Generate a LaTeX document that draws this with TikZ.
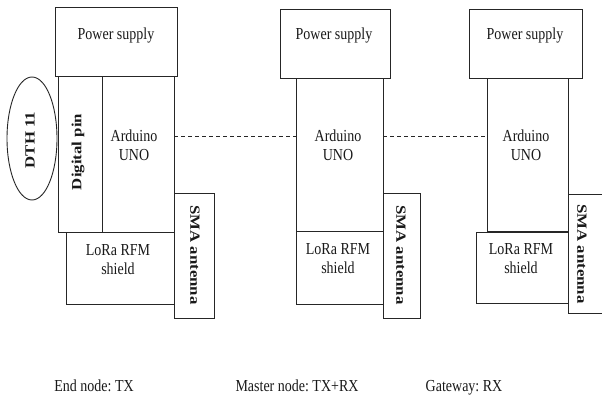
\documentclass[tikz,border=0pt]{standalone}
\usepackage{fontspec}
\setmainfont{Liberation Serif}
\usetikzlibrary{shapes.geometric}
\frenchspacing
\newcommand{\hs}[1]{\scalebox{1}[1.2]{\begin{tabular}{@{}c@{}}#1\end{tabular}}}
\newcommand{\vs}[1]{\scalebox{1.2}[1]{\textbf{#1}}}
\begin{document}
\begin{tikzpicture}[x=1pt,y=-1pt,
  box/.style={draw=black!85,line width=0.9pt,rectangle,inner sep=0pt},
  lbl/.style={inner sep=0pt,font=\fontsize{14}{16}\selectfont,text=black!90},
  dline/.style={draw=black!85,line width=0.9pt,dash pattern=on 4pt off 3pt}]
\useasboundingbox[fill=white] (0,0) rectangle (602,407);
% End node
\node[box,minimum width=122pt,minimum height=69pt] (ps1) at (116,41.5) {};
\node[box,minimum width=44pt,minimum height=156pt] (dp1) at (80,154) {};
\node[box,minimum width=72pt,minimum height=156pt] (ard1) at (138,154) {};
\node[box,minimum width=108pt,minimum height=72pt] (lora1) at (120,268) {};
\node[box,minimum width=40pt,minimum height=125pt] (sma1) at (194,255.5) {};
\node[box,ellipse,minimum width=50pt,minimum height=123pt] (dth) at (32,138.5) {};
% Master node
\node[box,minimum width=110pt,minimum height=69pt] (ps2) at (335,43.5) {};
\node[box,minimum width=87pt,minimum height=153pt] (ard2) at (339.5,154.5) {};
\node[box,minimum width=87pt,minimum height=73pt] (lora2) at (339.5,267.5) {};
\node[box,minimum width=37pt,minimum height=125pt] (sma2) at (401.5,255.5) {};
% Gateway
\node[box,minimum width=113pt,minimum height=69pt] (ps3) at (525.5,43.5) {};
\node[box,minimum width=81pt,minimum height=153pt] (ard3) at (527.5,154.5) {};
\node[box,minimum width=92pt,minimum height=71pt] (lora3) at (522,267.5) {};
\node[box,minimum width=46pt,minimum height=119pt] (sma3) at (591,253.5) {};
% texts
\node[lbl] (tps1) at (116,36) {\hs{Power supply}};
\node[lbl] (tps2) at (334,36) {\hs{Power supply}};
\node[lbl] (tps3) at (525,36) {\hs{Power supply}};
\node[lbl] (tard1) at (134,147) {\hs{Arduino\\UNO}};
\node[lbl] (tard2) at (338,147) {\hs{Arduino\\UNO}};
\node[lbl] (tard3) at (526,147) {\hs{Arduino\\UNO}};
\node[lbl] (tlora1) at (118,261) {\hs{LoRa RFM\\shield}};
\node[lbl] (tlora2) at (338,260) {\hs{LoRa RFM\\shield}};
\node[lbl] (tlora3) at (521,260) {\hs{LoRa RFM\\shield}};
\node[lbl,rotate=90] (tdth) at (30,140) {\vs{DTH 11}};
\node[lbl,rotate=90] (tdp) at (78,152) {\vs{Digital pin}};
\node[lbl,rotate=-90] (tsma1) at (195,255) {\vs{SMA antenna}};
\node[lbl,rotate=-90] (tsma2) at (401,255) {\vs{SMA antenna}};
\node[lbl,rotate=-90] (tsma3) at (582,254) {\vs{SMA antenna}};
\node[lbl] (cap1) at (94,388) {\hs{End node: TX}};
\node[lbl] (cap2) at (297,388) {\hs{Master node: TX+RX}};
\node[lbl] (cap3) at (464,388) {\hs{Gateway: RX}};
% dashed links
\draw[dline] ([yshift=18pt]ard1.east) -- ([yshift=18pt]ard1.east -| ard2.west);
\draw[dline] ([yshift=18pt]ard2.east) -- ([yshift=18pt]ard2.east -| ard3.west);
\end{tikzpicture}
\end{document}
